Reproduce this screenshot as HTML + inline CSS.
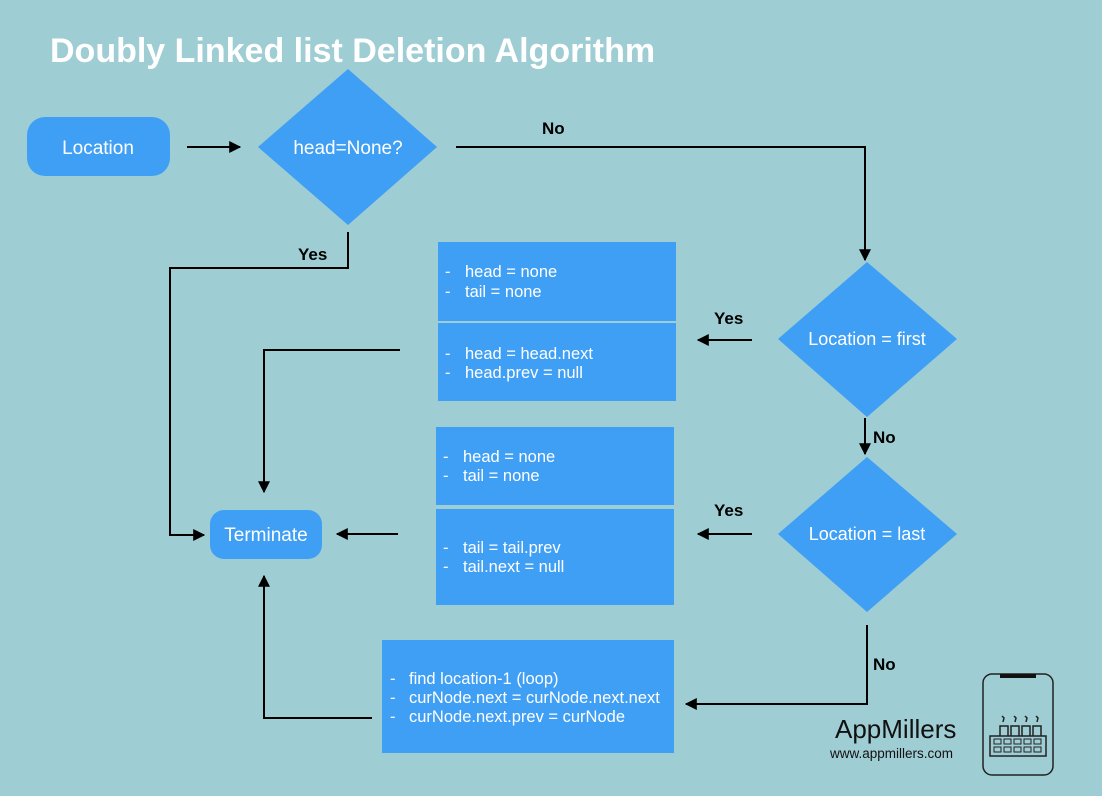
<!DOCTYPE html>
<html><head><style>
body{margin:0;background:#9fcdd4;}
svg{display:block;font-family:"Liberation Sans",sans-serif;}
</style></head><body>
<svg width="1102" height="796" viewBox="0 0 1102 796">
<defs><marker id="a" viewBox="0 0 10 10" refX="9" refY="5" markerWidth="6" markerHeight="6" orient="auto"><path d="M0,0L10,5L0,10z" fill="#000"/></marker></defs>
<rect width="1102" height="796" fill="#9fcdd4"/>
<text x="50" y="62" font-size="34" font-weight="bold" fill="#fff">Doubly Linked list Deletion Algorithm</text>
<g fill="#3f9ff5">
<rect x="27" y="117" width="143" height="59" rx="18"/>
<polygon points="348,69 437,147 348,225 258,147"/>
<polygon points="867,262 957,339 867,417 778,339"/>
<polygon points="867,457 957,534 867,612 778,534"/>
<rect x="438" y="242" width="238" height="79"/>
<rect x="438" y="323" width="238" height="78"/>
<rect x="436" y="427" width="238" height="78"/>
<rect x="436" y="509" width="238" height="96"/>
<rect x="382" y="640" width="292" height="113"/>
<rect x="210" y="510" width="112" height="49" rx="14"/>
</g>
<g fill="none" stroke="#000" stroke-width="2">
<line x1="187" y1="147" x2="240" y2="147" marker-end="url(#a)"/>
<polyline points="456,147 865,147 865,260" marker-end="url(#a)"/>
<polyline points="348,232 348,268 170,268 170,535 204,535" marker-end="url(#a)"/>
<line x1="752" y1="340" x2="698" y2="340" marker-end="url(#a)"/>
<polyline points="400,350 264,350 264,492" marker-end="url(#a)"/>
<line x1="865" y1="418" x2="865" y2="454" marker-end="url(#a)"/>
<line x1="752" y1="534" x2="698" y2="534" marker-end="url(#a)"/>
<line x1="398" y1="534" x2="337" y2="534" marker-end="url(#a)"/>
<polyline points="867,625 867,704 686,704" marker-end="url(#a)"/>
<polyline points="372,718 264,718 264,576" marker-end="url(#a)"/>
</g>
<g fill="#fff" font-size="19" text-anchor="middle">
<text x="98" y="154">Location</text>
<text x="348" y="154">head=None?</text>
<text x="867" y="345" font-size="18">Location = first</text>
<text x="867" y="540" font-size="18">Location = last</text>
<text x="266" y="541">Terminate</text>
</g>
<g font-size="17" font-weight="bold" fill="#000">
<text x="542" y="134">No</text>
<text x="298" y="260">Yes</text>
<text x="714" y="324">Yes</text>
<text x="873" y="443">No</text>
<text x="714" y="516">Yes</text>
<text x="873" y="670">No</text>
</g>
<g fill="#fff" font-size="16.5">
<text x="445" y="277">-</text><text x="465" y="277">head = none</text>
<text x="445" y="297">-</text><text x="465" y="297">tail = none</text>
<text x="445" y="359">-</text><text x="465" y="359">head = head.next</text>
<text x="445" y="378">-</text><text x="465" y="378">head.prev = null</text>
<text x="443" y="462">-</text><text x="463" y="462">head = none</text>
<text x="443" y="481">-</text><text x="463" y="481">tail = none</text>
<text x="443" y="553">-</text><text x="463" y="553">tail = tail.prev</text>
<text x="443" y="572">-</text><text x="463" y="572">tail.next = null</text>
<text x="390" y="684">-</text><text x="409" y="684">find location-1 (loop)</text>
<text x="390" y="703">-</text><text x="409" y="703">curNode.next = curNode.next.next</text>
<text x="390" y="722">-</text><text x="409" y="722">curNode.next.prev = curNode</text>
</g>
<text x="835" y="738" font-size="26" fill="#111">AppMillers</text>
<text x="830" y="758" font-size="13.5" fill="#111">www.appmillers.com</text>
<g fill="none" stroke="#222" stroke-width="1.5">
<rect x="983" y="674" width="70" height="101" rx="9"/>
<rect x="990" y="736" width="56" height="20"/>
<path d="M1000,736v-10h8v10M1011,736v-10h8v10M1022,736v-10h8v10M1033,736v-10h8v10"/>
<path d="M1003,722l1,-4l-2,-2M1015,722l1,-4l-2,-2M1026,722l1,-4l-2,-2M1037,722l1,-4l-2,-2"/>
</g>
<rect x="1000" y="674" width="36" height="4" fill="#111"/>
<g fill="none" stroke="#222" stroke-width="1">
<rect x="994" y="739" width="7" height="5"/><rect x="1004" y="739" width="7" height="5"/><rect x="1014" y="739" width="7" height="5"/><rect x="1024" y="739" width="7" height="5"/><rect x="1034" y="739" width="7" height="5"/>
<rect x="994" y="747" width="7" height="5"/><rect x="1004" y="747" width="7" height="5"/><rect x="1014" y="747" width="7" height="5"/><rect x="1024" y="747" width="7" height="5"/><rect x="1034" y="747" width="7" height="5"/>
</g>
</svg>
</body></html>
